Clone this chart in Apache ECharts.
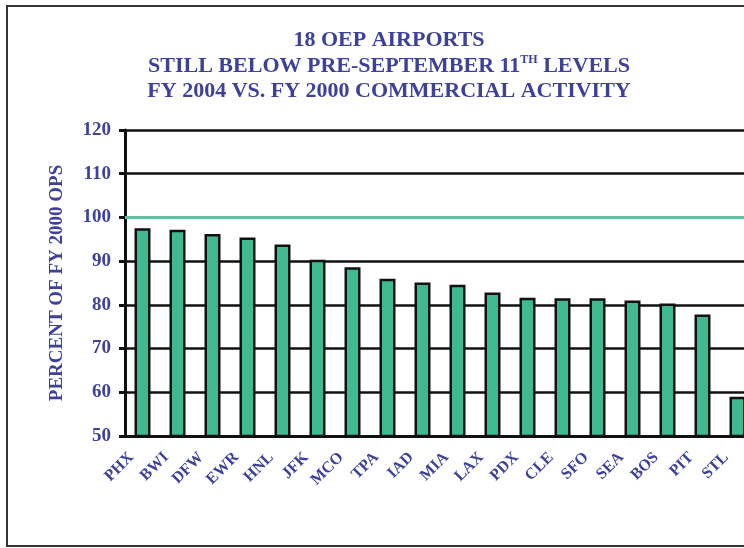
<!DOCTYPE html>
<html>
<head>
<meta charset="utf-8">
<script src="https://cdn.jsdelivr.net/npm/echarts@6/dist/echarts.min.js"></script>
<style>
html,body{margin:0;padding:0;width:744px;height:548px;overflow:hidden;background:#fff;}
#chart{position:absolute;left:0;top:0;width:780px;height:548px;}
#frame{position:absolute;left:6px;top:5px;width:800px;height:538px;border:2px solid #333;pointer-events:none;}
</style>
</head>
<body>
<div id="chart"></div>
<div id="frame"></div>
<script>
const categories = ['PHX','BWI','DFW','EWR','HNL','JFK','MCO','TPA','IAD','MIA','LAX','PDX','CLE','SFO','SEA','BOS','PIT','STL'];
const values = [97.5, 97.2, 96.2, 95.4, 93.8, 90.3, 88.6, 86.0, 85.1, 84.6, 82.8, 81.6, 81.5, 81.5, 81.0, 80.3, 77.8, 59.0];
const referenceLevel = 100;
const yTicks = [50, 60, 70, 80, 90, 100, 110, 120];

const textColor = '#3d4199';
const serif = '"Liberation Serif", "Times New Roman", serif';

const chart = echarts.init(document.getElementById('chart'));
chart.setOption({
  animation: false,
  title: {
    text: '18 OEP AIRPORTS\nSTILL BELOW PRE-SEPTEMBER 11{sup|TH} LEVELS\nFY 2004 VS. FY 2000 COMMERCIAL ACTIVITY',
    left: 384,
    textAlign: 'center',
    top: 23,
    textStyle: {
      fontFamily: serif,
      fontWeight: 'bold',
      fontSize: 22,
      color: textColor,
      lineHeight: 25.5,
      rich: {
        sup: { fontFamily: serif, fontWeight: 'bold', fontSize: 12, color: textColor, verticalAlign: 'top', lineHeight: 25.5, padding: [0, 0, 9, 0] }
      }
    }
  },
  grid: { left: 125, top: 130, bottom: 112, width: 630 },
  xAxis: {
    type: 'category',
    data: categories,
    axisLine: { lineStyle: { color: '#111', width: 3 } },
    axisTick: { show: false },
    axisLabel: {
      rotate: 45,
      interval: 0,
      margin: 19,
      verticalAlign: 'bottom',
      padding: [0, 8, 0, 0],
      fontFamily: serif,
      fontWeight: 'bold',
      fontSize: 16,
      color: textColor
    }
  },
  yAxis: {
    type: 'value',
    min: yTicks[0],
    max: yTicks[yTicks.length - 1],
    interval: 10,
    name: 'PERCENT OF FY 2000 OPS',
    nameLocation: 'middle',
    nameGap: 58,
    nameTextStyle: { fontFamily: serif, fontWeight: 'bold', fontSize: 19, color: textColor },
    axisLine: { show: true, lineStyle: { color: '#111', width: 3 } },
    axisTick: { show: true, length: 6, lineStyle: { color: '#111', width: 3 } },
    axisLabel: { margin: 14, fontFamily: serif, fontWeight: 'bold', fontSize: 19, color: textColor },
    splitLine: { lineStyle: { color: '#111', width: 2.5 } }
  },
  series: [{
    type: 'bar',
    data: values,
    barWidth: 16,
    itemStyle: { color: '#3fb98f', borderColor: '#111', borderWidth: 2.5 },
    markLine: {
      symbol: 'none',
      silent: true,
      label: { show: false },
      lineStyle: { color: '#5cc39c', width: 3, type: 'solid' },
      data: [{ yAxis: referenceLevel }]
    },
    z: 3
  }]
});
</script>
</body>
</html>
